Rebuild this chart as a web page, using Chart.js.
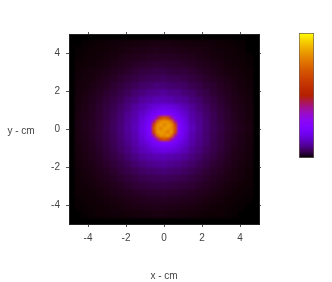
<!DOCTYPE html>
<html>
<head>
<meta charset="utf-8">
<style>
  html, body { margin: 0; padding: 0; background: #fff; }
  canvas { position: absolute; }
  #heatBox { position: absolute; left: 69px; top: 34px; width: 190px; height: 190px; overflow: hidden; background: #000; }
  #heat { left: 0; top: 0; filter: blur(1.2px); }
  #plot { left: 0; top: 0; filter: blur(0.45px); }
  #bar { left: 299px; top: 33px; filter: blur(0.45px); }
</style>
</head>
<body>
<div id="heatBox"><canvas id="heat" width="190" height="190"></canvas></div>
<canvas id="plot" width="332" height="282"></canvas>
<canvas id="bar" width="15" height="125"></canvas>
<script src="https://cdn.jsdelivr.net/npm/chart.js@4/dist/chart.umd.min.js"></script>
<script>
const xTicks = [-4, -2, 0, 2, 4];
const yTicks = [-4, -2, 0, 2, 4];

// coarse cells over the whole map, 0.4 cm wide
const outerX = [-4.8,-4.4,-4,-3.6,-3.2,-2.8,-2.4,-2,-1.6,-1.2,-0.8,-0.4,0,0.4,0.8,1.2,1.6,2,2.4,2.8,3.2,3.6,4,4.4,4.8];
const outerY = [4.8,4.4,4,3.6,3.2,2.8,2.4,2,1.6,1.2,0.8,0.4,0,-0.4,-0.8,-1.2,-1.6,-2,-2.4,-2.8,-3.2,-3.6,-4,-4.4,-4.8];
// intensity x 1000
const outerRows = [
  [0,1,2,3,4,5,6,7,8,9,10,11,10,10,9,8,7,6,6,5,4,3,2,1,0],
  [1,2,3,4,5,6,8,10,12,13,15,16,15,15,14,12,11,10,8,6,5,4,3,2,0],
  [2,3,4,5,7,9,12,15,17,19,21,22,22,21,20,18,16,13,11,8,6,5,4,3,1],
  [3,4,5,7,9,13,16,20,24,27,29,32,31,29,28,25,23,19,16,13,10,7,5,4,2],
  [4,6,8,10,13,18,22,27,33,40,41,45,44,40,37,37,31,25,21,16,12,9,7,5,3],
  [5,7,9,13,18,23,30,36,43,49,54,55,60,53,52,46,40,34,27,22,16,13,9,6,4],
  [6,8,12,17,22,30,37,47,54,66,69,77,76,72,66,62,51,45,34,29,21,16,11,7,5],
  [7,10,15,21,29,36,47,56,71,80,93,95,103,92,90,76,68,53,45,33,26,19,13,9,6],
  [8,12,18,25,34,44,54,72,84,105,112,124,124,120,107,100,80,68,51,41,30,22,15,11,7],
  [9,14,20,28,39,50,66,82,106,122,148,160,170,155,144,118,100,78,63,46,36,25,17,12,8],
  [10,15,21,30,41,54,72,95,116,150,180,200,210,190,176,140,112,90,68,53,38,28,19,13,8],
  [11,16,22,31,43,58,75,100,125,162,205,220,230,212,200,160,120,95,74,53,40,29,20,14,9],
  [11,16,23,32,44,60,78,103,128,170,212,225,240,220,210,165,128,100,74,56,42,30,21,15,10],
  [10,15,22,31,42,56,75,98,122,162,204,215,230,210,202,158,120,94,72,53,40,29,20,14,9],
  [9,14,20,29,40,53,70,92,113,145,178,198,208,192,176,140,112,88,70,51,38,27,19,13,8],
  [8,13,18,26,37,48,64,80,104,124,145,162,165,155,142,120,97,80,61,48,35,25,17,12,7],
  [7,11,16,23,32,42,53,70,85,104,114,122,124,118,112,100,82,67,52,41,30,22,15,10,6],
  [6,10,14,20,27,36,44,56,70,80,91,96,100,94,89,79,67,54,44,33,26,19,13,9,5],
  [5,8,11,16,21,28,37,45,53,63,69,72,76,71,68,62,52,43,34,27,21,15,10,7,4],
  [4,6,9,13,17,22,28,36,41,48,52,55,57,54,51,46,40,34,27,21,16,12,9,6,3],
  [4,5,7,10,13,17,21,27,33,37,40,42,43,41,38,35,31,26,21,16,12,9,6,4,3],
  [3,4,5,7,10,13,16,20,24,26,29,30,31,29,28,25,22,19,16,12,9,6,4,3,2],
  [2,3,4,5,7,9,11,14,17,18,20,21,22,20,19,17,16,13,10,8,6,4,3,2,1],
  [1,2,3,4,5,6,8,10,12,13,14,15,15,14,13,12,10,9,7,5,4,3,2,1,0],
  [0,1,2,3,4,5,5,6,7,8,9,10,10,9,8,7,6,5,4,3,3,2,1,0,0]
];

// finer cells around the hot spot, 0.2 cm wide
const innerX = [-1.15,-0.95,-0.75,-0.55,-0.35,-0.15,0.05,0.25,0.45,0.65,0.85,1.05,1.25];
const innerY = [1.2,1,0.8,0.6,0.4,0.2,0,-0.2,-0.4,-0.6,-0.8,-1,-1.2];
const innerRows = [
  [125,133,145,157,165,172,175,172,165,157,145,133,125],
  [133,148,165,182,195,205,210,205,195,182,165,148,133],
  [145,165,190,210,228,240,245,240,228,210,190,165,145],
  [157,182,210,240,400,640,690,640,400,240,210,182,157],
  [165,195,228,400,740,820,840,820,750,400,228,195,165],
  [172,205,240,640,820,850,790,855,830,640,240,205,172],
  [175,210,245,690,840,790,860,840,810,690,245,210,175],
  [172,205,240,640,830,850,830,790,840,640,240,205,172],
  [165,195,228,400,750,835,810,850,750,400,228,195,165],
  [157,182,210,240,400,640,690,640,400,240,210,182,157],
  [145,165,190,210,228,240,245,240,228,210,190,165,145],
  [133,148,165,182,195,205,210,205,195,182,165,148,133],
  [125,133,145,157,165,172,175,172,165,157,145,133,125]
];

const colourStops = [0,0.05,0.1,0.15,0.2,0.25,0.3,0.35,0.4,0.45,0.5,0.55,0.6,0.65,0.7,0.75,0.8,0.85,0.9,0.95,1];

// gnuplot's default pm3d palette (rgbformulae 7,5,15)
function palette(v) {
  const r = Math.sqrt(v);
  const g = v * v * v;
  const b = Math.max(0, Math.sin(2 * Math.PI * v));
  return `rgb(${Math.round(r * 255)},${Math.round(g * 255)},${Math.round(b * 255)})`;
}

function cells(xs, ys, rows) {
  const pts = [];
  ys.forEach((y, j) => xs.forEach((x, i) => pts.push({ x: x, y: y, v: rows[j][i] / 1000 })));
  return pts;
}

function heatDataset(points, sidePx, order) {
  return {
    data: points,
    order: order,
    pointStyle: "rect",
    pointRadius: sidePx / Math.SQRT2,
    pointBorderWidth: 0,
    pointBackgroundColor: (ctx) => palette(ctx.raw ? ctx.raw.v : 0),
  };
}

const axisColor = "#555";
const textColor = "#444";
const tickFont = { family: "Liberation Sans", size: 10 };

// the colour map sits on its own canvas so it can be blurred harder than the axes
new Chart(document.getElementById("heat"), {
  type: "scatter",
  data: {
    datasets: [
      heatDataset(cells(innerX, innerY, innerRows), 4.4, 0),
      heatDataset(cells(outerX, outerY, outerRows), 8.2, 1),
    ],
  },
  options: {
    responsive: false,
    animation: false,
    events: [],
    plugins: { legend: { display: false }, tooltip: { enabled: false } },
    scales: {
      x: { type: "linear", display: false, min: -5, max: 5 },
      y: { type: "linear", display: false, min: -5, max: 5 },
    },
  },
});

// gnuplot writes the y label flat, Chart.js axis titles always rotate
const yLabel = {
  id: "yLabel",
  afterDraw(chart) {
    const c = chart.ctx;
    c.save();
    c.font = "10px 'Liberation Sans'";
    c.fillStyle = textColor;
    c.textAlign = "center";
    c.textBaseline = "middle";
    c.fillText("y - cm", 21, 131);
    c.restore();
  },
};

function edgeAxis(position, ticks) {
  return {
    type: "linear",
    position: position,
    min: -5,
    max: 5,
    border: { color: "#222" },
    grid: { drawOnChartArea: false, tickLength: 2, color: axisColor },
    ticks: { display: false },
    afterBuildTicks: (s) => { s.ticks = ticks.map((v) => ({ value: v })); },
    afterFit: (s) => {
      if (position === "top") s.height = 4;
      else s.width = 4;
    },
  };
}

new Chart(document.getElementById("plot"), {
  type: "scatter",
  data: { datasets: [{ data: [] }] },
  options: {
    responsive: false,
    animation: false,
    events: [],
    layout: { padding: { left: 0, top: 30, right: 69, bottom: 0 } },
    plugins: { legend: { display: false }, tooltip: { enabled: false } },
    scales: {
      x: {
        type: "linear",
        position: "bottom",
        min: -5,
        max: 5,
        border: { color: "#222" },
        grid: { drawOnChartArea: false, tickLength: 3, color: axisColor },
        ticks: { color: textColor, font: tickFont, padding: 5, maxRotation: 0 },
        title: { display: true, text: "x - cm", color: textColor, font: tickFont, padding: { top: 19, bottom: 0 } },
        afterBuildTicks: (s) => { s.ticks = xTicks.map((v) => ({ value: v })); },
        afterFit: (s) => { s.height = 58; },
      },
      y: {
        type: "linear",
        position: "left",
        min: -5,
        max: 5,
        border: { color: "#222" },
        grid: { drawOnChartArea: false, tickLength: 3, color: axisColor },
        ticks: { color: textColor, font: tickFont, padding: 6 },
        afterBuildTicks: (s) => { s.ticks = yTicks.map((v) => ({ value: v })); },
        afterFit: (s) => { s.width = 69; },
      },
      x2: edgeAxis("top", xTicks),
      y2: edgeAxis("right", yTicks),
    },
  },
  plugins: [yLabel],
});

// colour key, a single floating bar filled with the same palette
new Chart(document.getElementById("bar"), {
  type: "bar",
  data: {
    labels: ["key"],
    datasets: [
      {
        data: [[0, 1]],
        barPercentage: 1,
        categoryPercentage: 1,
        borderWidth: 1,
        borderColor: "#6e5f55",
        borderSkipped: false,
        backgroundColor: (ctx) => {
          const area = ctx.chart.chartArea;
          if (!area) return "#000";
          const g = ctx.chart.ctx.createLinearGradient(0, area.bottom, 0, area.top);
          colourStops.forEach((v) => g.addColorStop(v, palette(v)));
          return g;
        },
      },
    ],
  },
  options: {
    responsive: false,
    animation: false,
    events: [],
    plugins: { legend: { display: false }, tooltip: { enabled: false } },
    scales: {
      x: { display: false },
      y: { display: false, min: 0, max: 1 },
    },
  },
});
</script>
</body>
</html>
